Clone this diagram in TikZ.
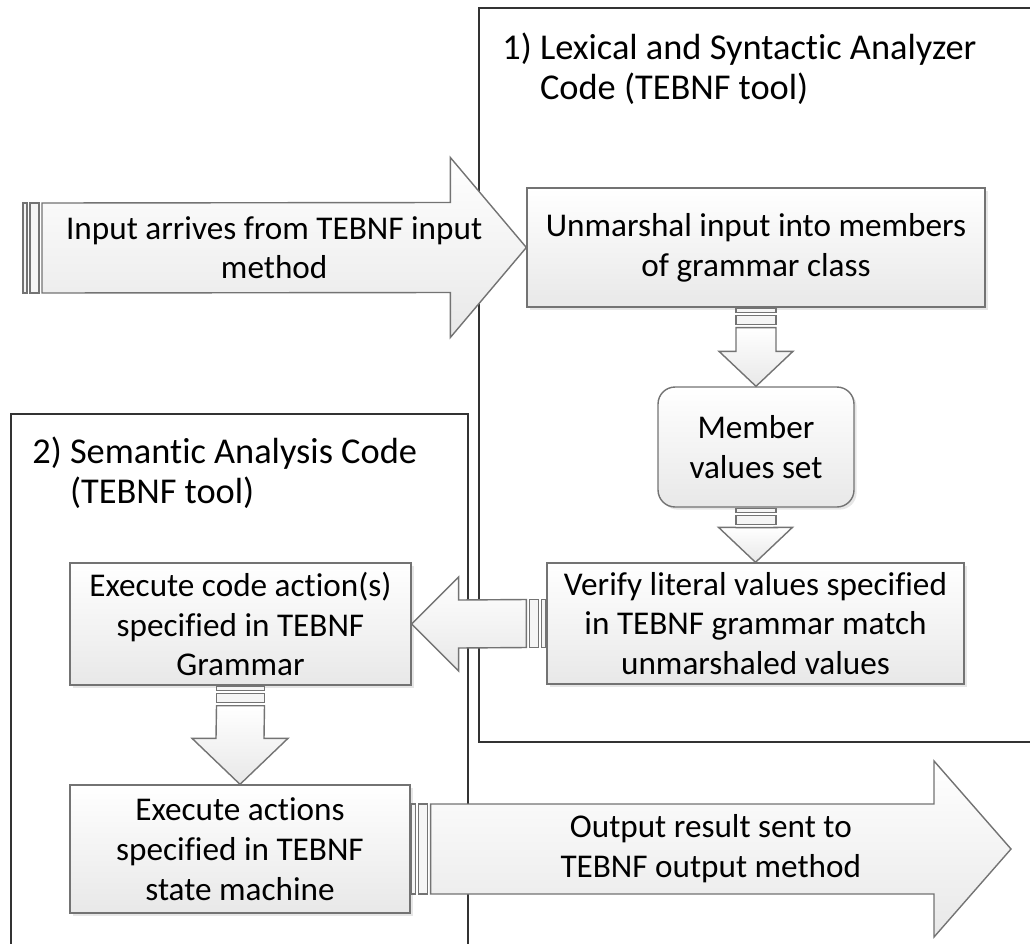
\documentclass[tikz,border=0pt]{standalone}
\usepackage{fontspec}
\setmainfont{Carlito}[Ligatures=NoCommon]
\usetikzlibrary{calc,shadows}

\newcommand{\boxfont}{\fontsize{18.9}{22.7}\selectfont}
\newcommand{\titlefont}{\fontsize{20.7}{22.3}\selectfont}

\tikzset{
    region/.style={draw=black!80, line width=0.9pt},
    box/.style={draw=black!55, line width=0.8pt, top color=white, bottom color=black!9,
        align=center, inner sep=2pt, font=\boxfont,
        drop shadow={shadow xshift=1.5pt, shadow yshift=-1.5pt, opacity=0.2}},
    blockarrow/.style={draw=black!55, line width=0.8pt, top color=white, bottom color=black!9},
    stripe/.style={draw=black!55, line width=0.6pt, fill=black!4},
    title/.style={anchor=base west, inner sep=0pt, align=left, font=\titlefont},
    arrowtext/.style={align=center, font=\boxfont}
}

% striped block arrow, left or right: tail, tip, direction, shaft half, head half, head length
\newcommand{\harrow}[6]{
    \draw[stripe] ($(#1)+({#3*1},-#4)$) rectangle ($(#1)+({#3*5},#4)$);
    \draw[stripe] ($(#1)+({#3*8},-#4)$) rectangle ($(#1)+({#3*17},#4)$);
    \draw[blockarrow] ($(#1)+({#3*20},-#4)$) -- ($(#2)+({-(#3)*#6},-#4)$) -- ($(#2)+({-(#3)*#6},-#5)$)
        -- (#2) -- ($(#2)+({-(#3)*#6},#5)$) -- ($(#2)+({-(#3)*#6},#4)$) -- ($(#1)+({#3*20},#4)$) -- cycle;
}
% striped block arrow, downwards: tail, tip, shaft half, head half, head length
\newcommand{\varrow}[5]{
    \draw[stripe] ($(#1)+(-#3,1)$) rectangle ($(#1)+(#3,5)$);
    \draw[stripe] ($(#1)+(-#3,8)$) rectangle ($(#1)+(#3,17)$);
    \draw[blockarrow] ($(#1)+(-#3,20)$) -- ($(#2)+(-#3,-#5)$) -- ($(#2)+(-#4,-#5)$)
        -- (#2) -- ($(#2)+(#4,-#5)$) -- ($(#2)+(#3,-#5)$) -- ($(#1)+(#3,20)$) -- cycle;
}

\begin{document}
\begin{tikzpicture}[x=0.02cm, y=-0.02cm]
    \useasboundingbox (0, 0) rectangle (1030, 943);
    \draw[region] (479, 8) rectangle (1045, 742);
    \draw[region] (11, 414) rectangle (468, 960);
    \node[title] (lexical) at (502, 99) {1) Lexical and Syntactic Analyzer\\\phantom{1)\ }Code (TEBNF tool)};
    \node[title] (semantic) at (32, 503) {2) Semantic Analysis Code\\\phantom{2)\ }(TEBNF tool)};

    \node[box, minimum width=9.16cm, minimum height=2.38cm] (unmarshal) at (756, 247.5) {Unmarshal input into members\\of grammar class};
    \node[box, rounded corners=0.34cm, minimum width=3.92cm, minimum height=2.4cm] (member) at (756, 447) {Member\\values set};
    \node[box, minimum width=8.34cm, minimum height=2.42cm] (verify) at (755.5, 623.5) {Verify literal values specified\\in TEBNF grammar match\\unmarshaled values};
    \node[box, minimum width=6.82cm, minimum height=2.44cm] (code) at (240.5, 624) {Execute code action(s)\\specified in TEBNF\\Grammar};
    \node[box, minimum width=6.8cm, minimum height=2.56cm] (actions) at (240, 849) {Execute actions\\specified in TEBNF\\state machine};

    \coordinate (intail) at (22, 248);
    \coordinate (outtip) at (1011, 849);
    \harrow{intail}{unmarshal.west}{1}{45}{90}{76}
    \varrow{unmarshal.south}{member.north}{20}{37}{35}
    \varrow{member.south}{verify.north}{20}{37}{35}
    \harrow{verify.west}{code.east}{-1}{24}{47}{47}
    \varrow{code.south}{actions.north}{24}{48}{46}
    \harrow{actions.east}{outtip}{1}{45}{88}{77}
    \node[arrowtext] (intext) at ($(intail)!0.5!(unmarshal.west)$) {Input arrives from TEBNF input\\method};
    \node[arrowtext] (outtext) at ($(actions.east)!0.5!(outtip)$) {Output result sent to\\TEBNF output method};
\end{tikzpicture}
\end{document}
